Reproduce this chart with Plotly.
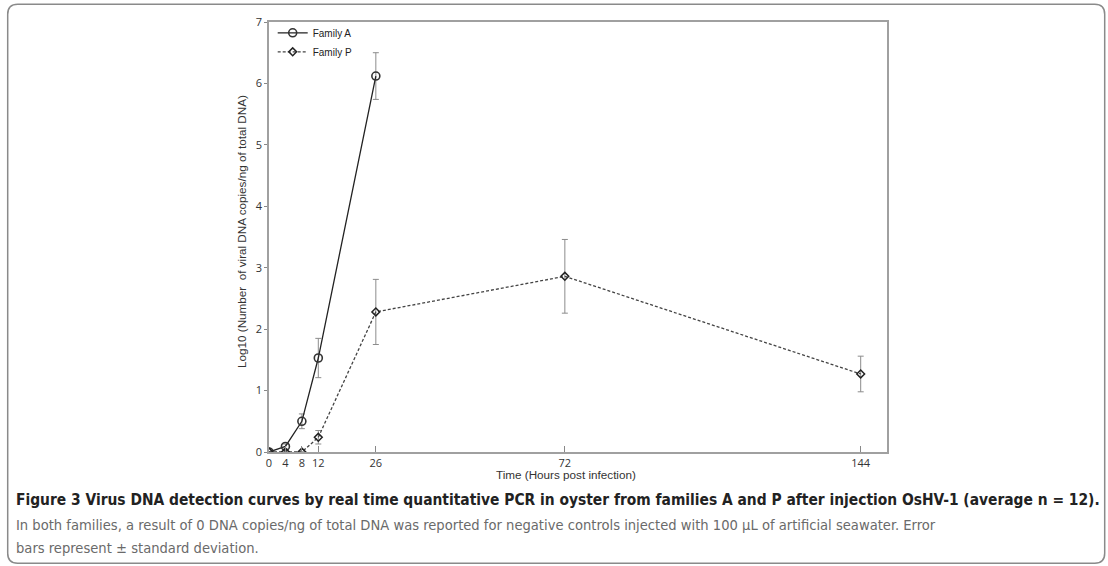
import plotly.graph_objects as go

# ---- data ----
hours_a = [0, 4, 8, 12, 26]
family_a = [0.0, 0.09, 0.50, 1.53, 6.12]
family_a_sd = [0.0, 0.04, 0.12, 0.32, 0.38]

hours_p = [0, 4, 8, 12, 26, 72, 144]
family_p = [0.0, 0.0, 0.0, 0.24, 2.28, 2.86, 1.27]
family_p_sd = [0.0, 0.0, 0.0, 0.11, 0.53, 0.60, 0.29]

x_ticks = [0, 4, 8, 12, 26, 72, 144]
y_ticks = [0, 1, 2, 3, 4, 5, 6, 7]

W, H = 1108, 566
L, R, T, B = 269.3, 887.3, 21.7, 451.7


def px(xp):
    return (xp - L) / (R - L)


def py(yp):
    return (B - yp) / (B - T)


fig = go.Figure()
fig.add_trace(go.Scatter(
    x=hours_a, y=family_a, name="Family A", mode="lines+markers",
    line=dict(color="#222222", width=1.3),
    marker=dict(symbol="circle-open", size=8, color="#333333", line=dict(width=1.6)),
    error_y=dict(type="data", array=family_a_sd, visible=True, color="#8c8c8c",
                 thickness=1, width=3),
))
fig.add_trace(go.Scatter(
    x=hours_p, y=family_p, name="Family P", mode="lines+markers",
    line=dict(color="#444444", width=1.3, dash="3px,2px"),
    marker=dict(symbol="diamond-open", size=6, color="#222222", line=dict(width=1.5)),
    error_y=dict(type="data", array=family_p_sd, visible=True, color="#8c8c8c",
                 thickness=1, width=3),
))

axis_common = dict(
    showgrid=False, zeroline=False, showline=True, linecolor="#a0a0a0",
    linewidth=1.5, mirror=True, tickcolor="#888888",
    tickfont=dict(family="Open Sans, Liberation Sans, Arial", size=11, color="#333333"),
)

fig.update_xaxes(range=[0, 150.4], tickvals=x_ticks, ticktext=[str(v) for v in x_ticks],
                 ticks="inside", ticklen=6, **axis_common)
fig.update_yaxes(range=[0, 7], tickvals=y_ticks, ticks="outside", ticklen=3, **axis_common)

cap_font = "DejaVu Sans Condensed, Liberation Sans Narrow, Arial Narrow, sans-serif"
annotations = [
    dict(text="Time (Hours post infection)", x=px(566), y=py(474), xref="paper", yref="paper",
         showarrow=False, xanchor="center", yanchor="middle",
         font=dict(family="Liberation Sans, Arial", size=11.7, color="#333333")),
    dict(text="Log10 (Number  of viral DNA copies/ng of total DNA)", x=px(242), y=py(231),
         xref="paper", yref="paper", textangle=-90, showarrow=False,
         xanchor="center", yanchor="middle",
         font=dict(family="Liberation Sans, Arial", size=11.7, color="#333333")),
    dict(text="<b>Figure 3 Virus DNA detection curves by real time quantitative PCR in oyster from families A and P after injection OsHV-1 (average n = 12).</b>",
         x=px(14), y=py(500), xref="paper", yref="paper", showarrow=False,
         xanchor="left", yanchor="middle",
         font=dict(family=cap_font, size=15.4, color="#222222")),
    dict(text="In both families, a result of 0 DNA copies/ng of total DNA was reported for negative controls injected with 100 μL of artificial seawater. Error",
         x=px(14), y=py(524), xref="paper", yref="paper", showarrow=False,
         xanchor="left", yanchor="middle",
         font=dict(family=cap_font, size=14.6, color="#6a6a6a")),
    dict(text="bars represent ± standard deviation.",
         x=px(14), y=py(547), xref="paper", yref="paper", showarrow=False,
         xanchor="left", yanchor="middle",
         font=dict(family=cap_font, size=14.6, color="#6a6a6a")),
]

# rounded outer frame
x0, x1, y0, y1, r = 8, 1105, 4, 563, 10
path = (f"M {px(x0+r)},{py(y0)} L {px(x1-r)},{py(y0)} "
        f"Q {px(x1)},{py(y0)} {px(x1)},{py(y0+r)} "
        f"L {px(x1)},{py(y1-r)} Q {px(x1)},{py(y1)} {px(x1-r)},{py(y1)} "
        f"L {px(x0+r)},{py(y1)} Q {px(x0)},{py(y1)} {px(x0)},{py(y1-r)} "
        f"L {px(x0)},{py(y0+r)} Q {px(x0)},{py(y0)} {px(x0+r)},{py(y0)} Z")

fig.update_layout(
    width=W, height=H,
    margin=dict(l=L, r=W - R, t=T, b=H - B),
    paper_bgcolor="white", plot_bgcolor="white",
    showlegend=True,
    legend=dict(x=px(273), y=py(18), xanchor="left", yanchor="top",
                bgcolor="rgba(0,0,0,0)", tracegroupgap=0,
                font=dict(family="Liberation Sans, Arial", size=10, color="#222222")),
    annotations=annotations,
    shapes=[dict(type="path", path=path, xref="paper", yref="paper",
                 line=dict(color="#8a8a8a", width=1.5), layer="below")],
)

fig.write_html("out.html", config={"displayModeBar": False},
               post_script="document.body.style.margin='0';")
